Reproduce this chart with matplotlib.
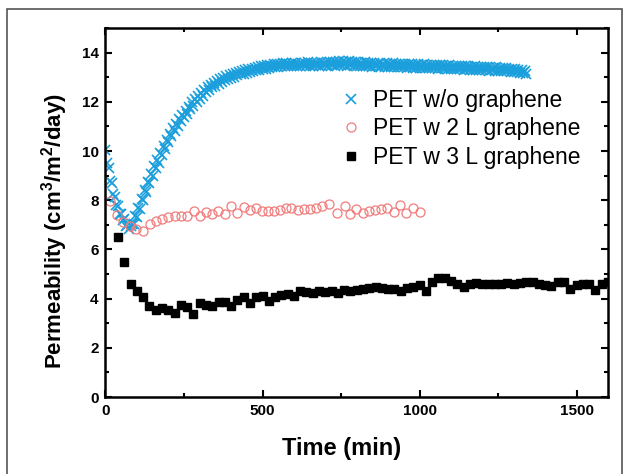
import numpy as np
import matplotlib
matplotlib.use("Agg")
import matplotlib.pyplot as plt
from matplotlib.patches import Rectangle
from matplotlib.ticker import MultipleLocator

plt.rcParams['font.family'] = ['Liberation Sans', 'DejaVu Sans']
plt.rcParams['mathtext.fontset'] = 'custom'
plt.rcParams['mathtext.bf'] = 'Liberation Sans:bold'
plt.rcParams['mathtext.default'] = 'bf'

# PET without graphene (sampled every 5 min)
t_bare = np.arange(0, 1341, 5)
p_bare = [
    10.05, 9.5, 9.3, 8.8, 8.7, 8.25, 8.15, 7.8, 7.75, 7.45,
    7.45, 7.2, 7.22, 6.95, 7.0, 6.82, 6.95, 7.05, 7.02, 7.35,
    7.3, 7.7, 7.65, 8.05, 8.0, 8.4, 8.35, 8.75, 8.7, 9.08,
    9.0, 9.38, 9.3, 9.65, 9.5, 9.92, 9.85, 10.2, 10.1, 10.45,
    10.35, 10.7, 10.6, 10.92, 10.8, 11.1, 11.0, 11.3, 11.2, 11.48,
    11.38, 11.62, 11.5, 11.8, 11.7, 11.98, 11.85, 12.12, 12.0, 12.25,
    12.12, 12.35, 12.25, 12.5, 12.38, 12.6, 12.5, 12.7, 12.6, 12.78,
    12.65, 12.85, 12.72, 12.92, 12.8, 12.98, 12.88, 13.05, 12.92, 13.08,
    12.98, 13.12, 13.02, 13.18, 13.08, 13.22, 13.12, 13.26, 13.15, 13.3,
    13.18, 13.32, 13.22, 13.35, 13.25, 13.38, 13.28, 13.42, 13.3, 13.44,
    13.33, 13.45, 13.35, 13.48, 13.38, 13.5, 13.4, 13.52, 13.42, 13.53,
    13.43, 13.55, 13.45, 13.56, 13.44, 13.58, 13.46, 13.55, 13.45, 13.57,
    13.46, 13.58, 13.47, 13.55, 13.44, 13.58, 13.48, 13.56, 13.45, 13.6,
    13.47, 13.57, 13.46, 13.59, 13.48, 13.56, 13.45, 13.6, 13.47, 13.58,
    13.48, 13.6, 13.46, 13.62, 13.49, 13.6, 13.47, 13.63, 13.5, 13.65,
    13.48, 13.66, 13.5, 13.62, 13.47, 13.64, 13.49, 13.6, 13.46, 13.62,
    13.47, 13.6, 13.45, 13.58, 13.46, 13.6, 13.44, 13.57, 13.45, 13.58,
    13.43, 13.58, 13.45, 13.55, 13.42, 13.57, 13.44, 13.55, 13.42, 13.56,
    13.43, 13.54, 13.4, 13.56, 13.42, 13.53, 13.4, 13.55, 13.41, 13.52,
    13.4, 13.54, 13.38, 13.52, 13.4, 13.53, 13.39, 13.5, 13.38, 13.52,
    13.38, 13.5, 13.37, 13.52, 13.38, 13.49, 13.36, 13.5, 13.37, 13.48,
    13.36, 13.5, 13.35, 13.48, 13.36, 13.49, 13.34, 13.47, 13.35, 13.48,
    13.33, 13.46, 13.34, 13.47, 13.32, 13.45, 13.33, 13.46, 13.31, 13.44,
    13.32, 13.45, 13.3, 13.43, 13.31, 13.44, 13.29, 13.42, 13.3, 13.43,
    13.28, 13.42, 13.29, 13.4, 13.27, 13.41, 13.28, 13.39, 13.26, 13.4,
    13.27, 13.38, 13.25, 13.37, 13.26, 13.36, 13.24, 13.35, 13.22, 13.34,
    13.23, 13.33, 13.2, 13.3, 13.18, 13.28, 13.16, 13.25, 13.15,
]

# PET with 2 layers of graphene
t_2l = [15, 36, 56, 77, 97, 118, 142, 161, 179, 200,
        221, 240, 260, 282, 301, 320, 339, 359, 380, 401,
        419, 441, 460, 479, 498, 517, 536, 555, 574, 592,
        613, 631, 650, 669, 690, 712, 738, 762, 778, 799,
        820, 839, 857, 877, 897, 918, 939, 958, 979, 1000]
p_2l = [7.95, 7.4, 7.1, 6.95, 6.85, 6.73, 7.04, 7.14, 7.23, 7.3,
        7.34, 7.34, 7.37, 7.57, 7.37, 7.54, 7.45, 7.57, 7.43, 7.77,
        7.47, 7.72, 7.61, 7.68, 7.58, 7.58, 7.58, 7.61, 7.68, 7.68,
        7.61, 7.64, 7.64, 7.68, 7.75, 7.85, 7.47, 7.75, 7.43, 7.64,
        7.47, 7.58, 7.61, 7.64, 7.68, 7.54, 7.81, 7.47, 7.68, 7.54]

# PET with 3 layers of graphene (sampled every 20 min)
t_3l = np.arange(40, 1601, 20)
p_3l = [6.52, 5.47, 4.6, 4.33, 4.06, 3.70, 3.54, 3.61, 3.54, 3.41,
        3.74, 3.65, 3.38, 3.84, 3.74, 3.68, 3.88, 3.88, 3.70, 3.95,
        4.06, 3.81, 4.08, 4.11, 3.92, 4.06, 4.14, 4.19, 4.11, 4.29,
        4.25, 4.22, 4.30, 4.26, 4.29, 4.24, 4.35, 4.33, 4.36, 4.38,
        4.42, 4.46, 4.43, 4.38, 4.40, 4.29, 4.45, 4.49, 4.54, 4.32,
        4.69, 4.83, 4.83, 4.72, 4.60, 4.49, 4.60, 4.62, 4.60, 4.60,
        4.58, 4.60, 4.62, 4.60, 4.62, 4.68, 4.66, 4.60, 4.56, 4.53,
        4.66, 4.69, 4.38, 4.56, 4.60, 4.60, 4.35, 4.60, 4.66]

fig = plt.figure(figsize=(6.29, 4.74), dpi=100)
ax = fig.add_axes([0.1677, 0.1624, 0.7989, 0.7785])

# grey frame around the figure
fig.patches.append(Rectangle((7 / 629, -0.05), 615 / 629, 1 - 9 / 474 + 0.05,
                             transform=fig.transFigure, fill=False,
                             edgecolor='#555555', linewidth=1.2))

ax.plot(t_bare, p_bare, ls='none', marker='x', ms=6.5, mew=1.2,
        color='#1b9fdc', label='PET w/o graphene')
ax.plot(t_2l, p_2l, ls='none', marker='o', ms=6.5, mew=0.9,
        mfc='none', mec='#f07c7c', label='PET w 2 L graphene')
ax.plot(t_3l, p_3l, ls='none', marker='s', ms=5.5, color='black',
        label='PET w 3 L graphene')

ax.set_xlim(0, 1600)
ax.set_ylim(0, 15)
ax.xaxis.set_major_locator(MultipleLocator(500))
ax.xaxis.set_minor_locator(MultipleLocator(250))
ax.yaxis.set_major_locator(MultipleLocator(2))
ax.yaxis.set_minor_locator(MultipleLocator(1))
ax.tick_params(which='both', direction='in', top=True, right=True, width=1.5)
ax.tick_params(which='major', length=5, labelsize=11, pad=5)
ax.tick_params(which='minor', length=3)
for lab in ax.get_xticklabels() + ax.get_yticklabels():
    lab.set_fontweight('bold')
for s in ax.spines.values():
    s.set_linewidth(1.8)

ax.set_xlabel('Time (min)', fontsize=17, fontweight='bold')
ax.xaxis.set_label_coords(0.469, -0.108)
ax.set_ylabel('Permeability (cm$^3$/m$^2$/day)', fontsize=16,
              fontweight='bold')
ax.yaxis.set_label_coords(-0.071, 0.45)

ax.legend(loc='upper left', bbox_to_anchor=(0.466, 0.836), frameon=False,
          fontsize=16.5, handletextpad=0.46, labelspacing=0.25,
          handlelength=1.0, borderpad=0, borderaxespad=0)

fig.savefig('out.png', dpi=100)
